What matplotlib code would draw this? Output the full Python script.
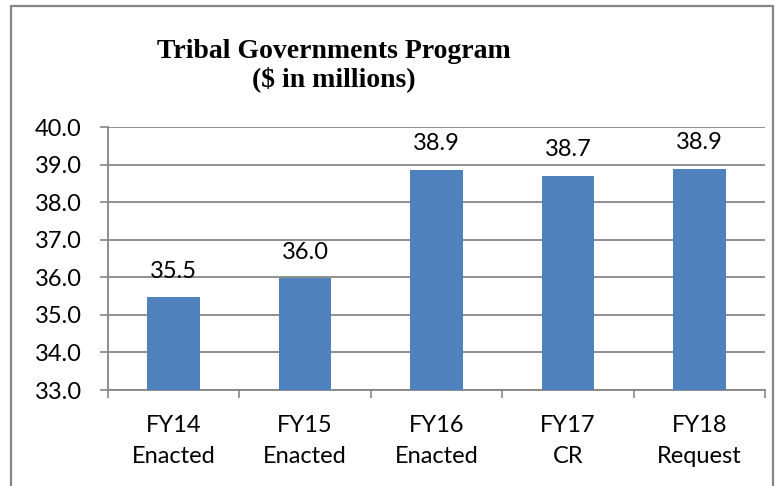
import matplotlib.pyplot as plt
import matplotlib.patches as mpatches
import numpy as np

# 値は画像から読み取り（単位: 百万ドル）
categories = ['FY14\nEnacted', 'FY15\nEnacted', 'FY16\nEnacted', 'FY17\nCR', 'FY18\nRequest']
values = [35.47, 35.98, 38.86, 38.70, 38.89]
yticks = [33.0, 34.0, 35.0, 36.0, 37.0, 38.0, 39.0, 40.0]

BAR = '#4F81BD'
GRID = '#868686'
FONT = 'Lato'
FS = 17

W, H = 778, 486
fig = plt.figure(figsize=(W / 100, H / 100), dpi=100)
fig.patch.set_facecolor('white')

# 外枠（下端は画像の外まで続く）
frame = mpatches.Rectangle((11 / W, -0.1), (773 - 11) / W, 1.1 - 6 / H,
                           transform=fig.transFigure, fill=False,
                           edgecolor=GRID, linewidth=1.6, clip_on=False)
fig.add_artist(frame)

ax = fig.add_axes([108 / W, 1 - 390 / H, (765 - 108) / W, (390 - 127) / H])
x = np.arange(len(categories))
ax.bar(x, values, width=0.4, color=BAR, zorder=3)

for i, v in enumerate(values):
    ax.annotate(f'{v:.1f}', (i, v), xytext=(0, 14), textcoords='offset points',
                ha='center', va='baseline', fontsize=FS, family=FONT, color='black')

ax.set_xlim(-0.5, len(categories) - 0.5)
ax.set_ylim(33, 40)
ax.set_yticks(yticks)
ax.set_yticklabels([f'{t:.1f}' for t in yticks], family=FONT, fontsize=FS)
ax.set_xticks(x)
ax.set_xticklabels(categories, family=FONT, fontsize=FS, linespacing=1.6)
ax.set_xticks(np.arange(-0.5, len(categories), 1), minor=True)
ax.tick_params(axis='x', which='major', length=0, pad=18)
ax.tick_params(axis='x', which='minor', length=6, width=1.2, color=GRID)
ax.tick_params(axis='y', length=6, width=1.2, color=GRID, pad=13)

ax.grid(axis='y', color=GRID, linewidth=1.3, zorder=0)
ax.set_axisbelow(True)
for sp in ['top', 'right']:
    ax.spines[sp].set_visible(False)
for sp in ['left', 'bottom']:
    ax.spines[sp].set_color(GRID)
    ax.spines[sp].set_linewidth(1.3)

fig.text(334 / W, 1 - 58 / H, 'Tribal Governments Program', ha='center', va='baseline',
         family='Liberation Serif', fontweight='bold', fontsize=20)
fig.text(334 / W, 1 - 86 / H, '($ in millions)', ha='center', va='baseline',
         family='Liberation Serif', fontweight='bold', fontsize=20)

fig.savefig('out.png', dpi=100, facecolor='white')
